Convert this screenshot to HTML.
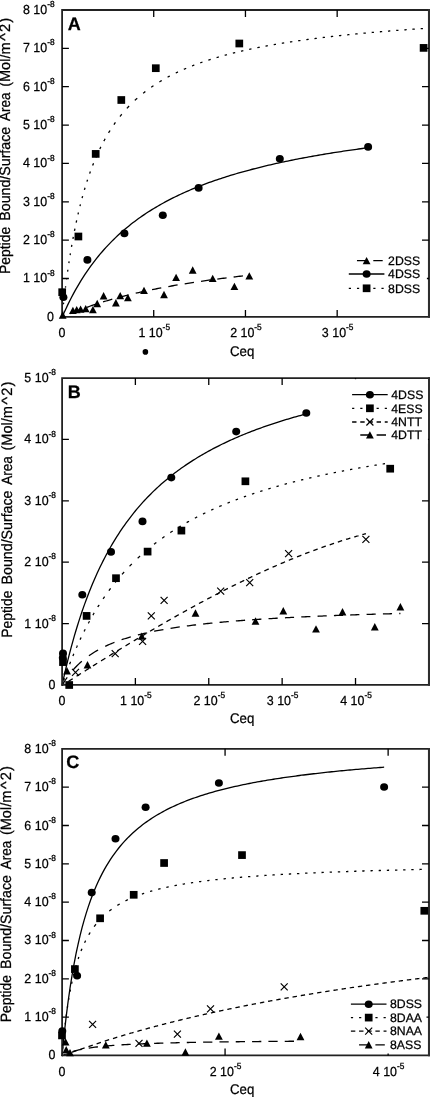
<!DOCTYPE html>
<html><head><meta charset="utf-8"><title>Peptide binding isotherms</title>
<style>html,body{margin:0;padding:0;background:#fff;font-family:"Liberation Sans",sans-serif}svg{display:block;will-change:transform}</style>
</head><body>
<svg width="430" height="1097" viewBox="0 0 430 1097" font-family="'Liberation Sans', sans-serif" fill="#000" text-rendering="geometricPrecision">
<style>text{stroke:#000;stroke-width:0.25px}</style>
<rect width="430" height="1097" fill="#fff"/>
<path d="M62.54 312.35L62.63 311.51L62.72 310.68M63.45 304.2L63.54 303.41L63.63 302.62M64.44 295.72L64.53 294.97L64.62 294.23M65.44 287.7L65.53 286.99L65.62 286.29M66.52 279.43L66.61 278.77L66.7 278.1M67.6 271.64L67.69 271.01L67.79 270.38L67.88 269.76M68.87 263.08L68.96 262.49L69.05 261.9L69.14 261.31M70.14 255.04L70.23 254.49L70.32 253.94L70.41 253.38M71.49 246.97L71.58 246.45L71.67 245.93L71.76 245.41L71.85 244.9M72.94 238.9L73.03 238.42L73.12 237.93L73.21 237.45L73.3 236.97M74.47 230.9L74.56 230.44L74.66 229.99L74.75 229.54L74.84 229.09L74.93 228.64M76.19 222.57L76.28 222.14L76.37 221.72L76.46 221.3L76.55 220.89L76.64 220.47M78 214.43L78.09 214.04L78.18 213.65L78.27 213.26L78.36 212.87L78.45 212.49M79.99 206.14L80.08 205.78L80.17 205.42L80.26 205.06L80.35 204.71L80.44 204.35M82.07 198.15L82.16 197.81L82.25 197.48L82.34 197.15L82.43 196.82L82.52 196.49L82.61 196.16M84.42 189.83L84.51 189.52L84.6 189.22L84.69 188.92L84.78 188.61L84.87 188.31L84.96 188.01L85.05 187.71M86.95 181.63L87.04 181.35L87.13 181.07L87.22 180.79L87.31 180.51L87.4 180.24L87.49 179.96L87.58 179.69M89.66 173.6L89.75 173.35L89.84 173.09L89.93 172.84L90.02 172.58L90.11 172.33L90.2 172.08L90.29 171.83L90.38 171.58M92.64 165.56L92.73 165.33L92.82 165.1L92.92 164.87L93.01 164.64L93.1 164.41L93.19 164.18L93.28 163.95L93.37 163.72L93.46 163.5L93.55 163.27M95.99 157.4L96.17 156.98L96.35 156.56L96.53 156.15L96.71 155.74L96.89 155.33L96.98 155.13M99.79 149.07L99.97 148.69L100.15 148.32L100.33 147.95L100.51 147.58L100.69 147.21L100.87 146.85M103.85 141.08L104.03 140.75L104.21 140.41L104.4 140.08L104.58 139.75L104.76 139.42L104.94 139.1L105.12 138.77M108.55 132.87L108.73 132.57L108.91 132.28L109.1 131.98L109.28 131.69L109.46 131.4L109.64 131.11L109.82 130.82L110 130.53M113.89 124.65L114.16 124.26L114.43 123.88L114.7 123.49L114.97 123.11L115.24 122.73L115.42 122.47M119.94 116.49L120.21 116.15L120.49 115.82L120.76 115.48L121.03 115.15L121.3 114.81L121.57 114.48L121.75 114.26M126.9 108.36L127.27 107.97L127.63 107.58L127.99 107.2L128.35 106.82L128.71 106.44L129.07 106.06M134.86 100.38L135.22 100.04L135.58 99.71L135.94 99.38L136.3 99.05L136.67 98.73L137.03 98.41L137.21 98.25M143.08 93.29L143.45 93.01L143.81 92.72L144.17 92.44L144.53 92.15L144.89 91.87L145.25 91.59L145.34 91.52M151.22 87.23L151.58 86.98L151.94 86.73L152.3 86.48L152.67 86.23L153.03 85.99L153.39 85.74L153.48 85.68M159.36 81.92L159.72 81.7L160.08 81.48L160.44 81.26L160.8 81.04L161.16 80.83L161.52 80.61L161.71 80.5M167.58 77.18L167.94 76.99L168.3 76.79L168.67 76.6L169.03 76.41L169.39 76.22L169.75 76.02L169.84 75.98M175.72 73.02L176.08 72.85L176.44 72.67L176.8 72.5L177.16 72.33L177.52 72.16L177.89 71.99L177.98 71.95M183.85 69.3L184.21 69.14L184.58 68.98L184.94 68.83L185.3 68.68L185.66 68.52L186.02 68.37L186.2 68.29M192.08 65.91L192.44 65.77L192.8 65.63L193.16 65.49L193.52 65.35L193.89 65.21L194.25 65.07L194.34 65.04M200.21 62.88L200.58 62.75L200.94 62.62L201.3 62.5L201.66 62.37L202.02 62.25L202.38 62.12L202.47 62.09M208.35 60.13L208.71 60.01L209.07 59.89L209.43 59.78L209.8 59.66L210.16 59.55L210.52 59.43L210.7 59.38M216.58 57.58L216.94 57.48L217.3 57.37L217.66 57.26L218.02 57.16L218.38 57.05L218.74 56.95L218.84 56.92M224.71 55.28L225.07 55.18L225.43 55.08L225.8 54.99L226.16 54.89L226.52 54.79L226.88 54.7L226.97 54.67M232.85 53.16L233.21 53.07L233.57 52.98L233.93 52.89L234.29 52.8L234.65 52.71L235.02 52.62L235.2 52.58M240.98 51.2L241.34 51.12L241.71 51.03L242.07 50.95L242.43 50.87L242.79 50.79L243.15 50.7L243.33 50.66M249.21 49.37L249.57 49.29L249.93 49.21L250.29 49.14L250.65 49.06L251.02 48.98L251.38 48.91L251.47 48.89M257.34 47.69L257.71 47.61L258.07 47.54L258.43 47.47L258.79 47.4L259.15 47.33L259.51 47.26L259.69 47.22M265.48 46.12L265.84 46.05L266.2 45.99L266.56 45.92L266.93 45.85L267.29 45.79L267.65 45.72L267.83 45.69M273.71 44.64L274.07 44.58L274.43 44.52L274.79 44.45L275.15 44.39L275.51 44.33L275.87 44.27L275.96 44.25M281.84 43.28L282.2 43.22L282.56 43.16L282.93 43.1L283.29 43.04L283.65 42.98L284.01 42.93L284.19 42.9M289.98 41.99L290.34 41.94L290.7 41.88L291.06 41.83L291.42 41.77L291.78 41.72L292.15 41.66L292.33 41.64M298.2 40.78L298.56 40.72L298.93 40.67L299.29 40.62L299.65 40.57L300.01 40.52L300.37 40.47L300.46 40.45M306.34 39.64L306.7 39.59L307.06 39.55L307.42 39.5L307.78 39.45L308.15 39.4L308.51 39.35L308.69 39.33M314.47 38.57L314.83 38.53L315.2 38.48L315.56 38.44L315.92 38.39L316.28 38.35L316.64 38.3L316.82 38.28M322.7 37.55L323.06 37.51L323.42 37.47L323.78 37.42L324.15 37.38L324.51 37.34L324.87 37.3L324.96 37.28M330.83 36.6L331.2 36.56L331.56 36.52L331.92 36.48L332.28 36.44L332.64 36.4L333 36.36L333.18 36.33M338.97 35.7L339.33 35.66L339.69 35.62L340.05 35.58L340.42 35.54L340.78 35.5L341.14 35.46L341.32 35.44M347.2 34.83L347.56 34.79L347.92 34.76L348.28 34.72L348.64 34.68L349 34.65L349.37 34.61L349.46 34.6M355.33 34.02L355.69 33.98L356.05 33.94L356.42 33.91L356.78 33.87L357.14 33.84L357.5 33.8L357.68 33.79M363.47 33.24L363.83 33.21L364.19 33.17L364.55 33.14L364.91 33.11L365.28 33.07L365.64 33.04L365.82 33.02M371.69 32.49L372.05 32.46L372.42 32.43L372.78 32.4L373.14 32.37L373.5 32.34L373.86 32.3L373.95 32.3M379.83 31.79L380.19 31.76L380.55 31.73L380.91 31.7L381.28 31.67L381.64 31.64L382 31.61L382.18 31.59M387.96 31.12L388.33 31.09L388.69 31.06L389.05 31.03L389.41 31L389.77 30.97L390.13 30.95L390.31 30.93M396.19 30.47L396.55 30.44L396.91 30.41L397.28 30.39L397.64 30.36L398 30.33L398.36 30.3L398.45 30.3M404.33 29.86L404.69 29.83L405.05 29.8L405.41 29.78L405.77 29.75L406.13 29.72L406.5 29.7L406.68 29.68M412.46 29.27L412.82 29.24L413.18 29.22L413.55 29.19L413.91 29.17L414.27 29.14L414.63 29.12L414.81 29.1M420.69 28.7L421.05 28.68L421.41 28.65L421.77 28.63L422.13 28.6L422.5 28.58L422.86 28.55L422.95 28.55" fill="none" stroke="#000" stroke-width="1.3"/>
<path d="M62 317.45L63.91 313.1L65.83 308.91L67.74 304.88L69.65 301L71.57 297.26L73.48 293.66L75.39 290.18L77.3 286.82L79.22 283.57L81.13 280.43L83.04 277.39L84.96 274.45L86.87 271.61L88.78 268.85L90.7 266.18L92.61 263.58L94.52 261.07L96.43 258.62L98.35 256.25L100.26 253.95L102.17 251.71L104.09 249.53L106 247.42L107.91 245.35L109.83 243.35L111.74 241.4L113.65 239.49L115.57 237.64L117.48 235.83L119.39 234.07L121.3 232.35L123.22 230.67L125.13 229.04L127.04 227.44L128.96 225.88L130.87 224.35L132.78 222.86L134.7 221.41L136.61 219.99L138.52 218.59L140.43 217.23L142.35 215.9L144.26 214.6L146.17 213.32L148.09 212.07L150 210.85L151.91 209.65L153.83 208.48L155.74 207.33L157.65 206.21L159.57 205.1L161.48 204.02L163.39 202.96L165.3 201.92L167.22 200.89L169.13 199.89L171.04 198.91L172.96 197.94L174.87 197L176.78 196.07L178.7 195.15L180.61 194.25L182.52 193.37L184.43 192.51L186.35 191.66L188.26 190.82L190.17 190L192.09 189.19L194 188.39L195.91 187.61L197.83 186.84L199.74 186.09L201.65 185.34L203.56 184.61L205.48 183.89L207.39 183.18L209.3 182.48L211.22 181.8L213.13 181.12L215.04 180.46L216.96 179.8L218.87 179.15L220.78 178.52L222.7 177.89L224.61 177.27L226.52 176.67L228.43 176.07L230.35 175.48L232.26 174.89L234.17 174.32L236.09 173.75L238 173.2L239.91 172.65L241.83 172.1L243.74 171.57L245.65 171.04L247.56 170.52L249.48 170.01L251.39 169.5L253.3 169L255.22 168.51L257.13 168.02L259.04 167.54L260.96 167.07L262.87 166.6L264.78 166.14L266.7 165.68L268.61 165.23L270.52 164.79L272.43 164.35L274.35 163.91L276.26 163.48L278.17 163.06L280.09 162.64L282 162.23L283.91 161.82L285.83 161.42L287.74 161.02L289.65 160.63L291.56 160.24L293.48 159.85L295.39 159.47L297.3 159.1L299.22 158.73L301.13 158.36L303.04 158L304.96 157.64L306.87 157.28L308.78 156.93L310.7 156.59L312.61 156.24L314.52 155.9L316.43 155.57L318.35 155.24L320.26 154.91L322.17 154.58L324.09 154.26L326 153.94L327.91 153.63L329.83 153.32L331.74 153.01L333.65 152.71L335.56 152.4L337.48 152.11L339.39 151.81L341.3 151.52L343.22 151.23L345.13 150.94L347.04 150.66L348.96 150.38L350.87 150.1L352.78 149.82L354.7 149.55L356.61 149.28L358.52 149.01L360.43 148.75L362.35 148.49L364.26 148.23L366.17 147.97L368.09 147.71" fill="none" stroke="#000" stroke-width="1.3"/>
<path d="M62 317.45L62.19 317.36L62.37 317.28L62.56 317.19L62.75 317.1L62.94 317.02L63.12 316.93L63.31 316.84M70.38 313.72L71.93 313.06L73.47 312.42L75.02 311.79L76.56 311.17L78.11 310.56L79.61 309.98M86.72 307.33L88.27 306.79L89.81 306.24L91.36 305.71L92.9 305.19L94.45 304.67L95.95 304.17M103.02 301.93L104.56 301.46L106.11 301L107.65 300.54L109.2 300.09L110.75 299.65L112.29 299.21M119.36 297.28L120.91 296.87L122.45 296.47L124 296.07L125.54 295.68L127.09 295.3L128.63 294.92M135.7 293.24L137.25 292.88L138.79 292.53L140.34 292.18L141.88 291.84L143.43 291.5L144.93 291.18M152.05 289.69L153.59 289.38L155.14 289.07L156.68 288.76L158.23 288.46L159.77 288.16L161.27 287.88M168.34 286.57L169.89 286.29L171.43 286.01L172.98 285.74L174.52 285.47L176.07 285.21L177.61 284.94M184.68 283.78L186.23 283.53L187.77 283.28L189.32 283.04L190.86 282.8L192.41 282.56L193.95 282.33M201.03 281.28L202.57 281.05L204.12 280.83L205.66 280.61L207.21 280.4L208.75 280.18L210.25 279.98M217.32 279.03L218.87 278.83L220.41 278.63L221.96 278.43L223.5 278.24L225.05 278.04L226.59 277.85M233.66 276.99L235.21 276.81L236.75 276.63L238.3 276.45L239.84 276.27L241.39 276.09L242.93 275.92" fill="none" stroke="#000" stroke-width="1.3"/>
<path d="M62.1 9.1V317.75M61.2 10.0H430M61.2 316.85H430" fill="none" stroke="#222" stroke-width="1.8"/>
<path d="M429 9.1V317.75" fill="none" stroke="#2e2e2e" stroke-width="2.1"/>
<path d="M62.0 278.49h6.9M428.9 278.49h-6.9M62.0 240.14h6.9M428.9 240.14h-6.9M62.0 201.78h6.9M428.9 201.78h-6.9M62.0 163.43h6.9M428.9 163.43h-6.9M62.0 125.07h6.9M428.9 125.07h-6.9M62.0 86.71h6.9M428.9 86.71h-6.9M62.0 48.36h6.9M428.9 48.36h-6.9M153.72 10.0v6.9M153.72 316.85v-6.9M245.45 10.0v6.9M245.45 316.85v-6.9M337.17 10.0v6.9M337.17 316.85v-6.9" stroke="#000" stroke-width="1.3" fill="none"/>
<text transform="translate(54 320.85) scale(0.95 1)" font-size="13.1" text-anchor="end">0</text>
<text transform="translate(54.6 282.49) scale(0.95 1)" font-size="13.1" text-anchor="end">1 10<tspan font-size="8.8" dy="-6.9" stroke="#000" stroke-width="0.3">-8</tspan></text>
<text transform="translate(54.6 244.14) scale(0.95 1)" font-size="13.1" text-anchor="end">2 10<tspan font-size="8.8" dy="-6.9" stroke="#000" stroke-width="0.3">-8</tspan></text>
<text transform="translate(54.6 205.78) scale(0.95 1)" font-size="13.1" text-anchor="end">3 10<tspan font-size="8.8" dy="-6.9" stroke="#000" stroke-width="0.3">-8</tspan></text>
<text transform="translate(54.6 167.43) scale(0.95 1)" font-size="13.1" text-anchor="end">4 10<tspan font-size="8.8" dy="-6.9" stroke="#000" stroke-width="0.3">-8</tspan></text>
<text transform="translate(54.6 129.07) scale(0.95 1)" font-size="13.1" text-anchor="end">5 10<tspan font-size="8.8" dy="-6.9" stroke="#000" stroke-width="0.3">-8</tspan></text>
<text transform="translate(54.6 90.71) scale(0.95 1)" font-size="13.1" text-anchor="end">6 10<tspan font-size="8.8" dy="-6.9" stroke="#000" stroke-width="0.3">-8</tspan></text>
<text transform="translate(54.6 52.36) scale(0.95 1)" font-size="13.1" text-anchor="end">7 10<tspan font-size="8.8" dy="-6.9" stroke="#000" stroke-width="0.3">-8</tspan></text>
<text transform="translate(54.6 14) scale(0.95 1)" font-size="13.1" text-anchor="end">8 10<tspan font-size="8.8" dy="-6.9" stroke="#000" stroke-width="0.3">-8</tspan></text>
<text transform="translate(62 337.15) scale(0.95 1)" font-size="13.1" text-anchor="middle">0</text>
<text transform="translate(154.22 337.15) scale(0.95 1)" font-size="13.1" text-anchor="middle">1 10<tspan font-size="8.8" dy="-6.9" stroke="#000" stroke-width="0.3">-5</tspan></text>
<text transform="translate(245.95 337.15) scale(0.95 1)" font-size="13.1" text-anchor="middle">2 10<tspan font-size="8.8" dy="-6.9" stroke="#000" stroke-width="0.3">-5</tspan></text>
<text transform="translate(337.67 337.15) scale(0.95 1)" font-size="13.1" text-anchor="middle">3 10<tspan font-size="8.8" dy="-6.9" stroke="#000" stroke-width="0.3">-5</tspan></text>
<path d="M58.8 318.7L66.6 318.7L62.7 311.3Z" fill="#000"/>
<path d="M69 314.1L76.8 314.1L72.9 306.7Z" fill="#000"/>
<path d="M72.8 313.3L80.6 313.3L76.7 305.9Z" fill="#000"/>
<path d="M76.7 312.8L84.5 312.8L80.6 305.4Z" fill="#000"/>
<path d="M81.8 312.3L89.6 312.3L85.7 304.9Z" fill="#000"/>
<path d="M89 313.3L96.8 313.3L92.9 305.9Z" fill="#000"/>
<path d="M93.3 307.2L101.1 307.2L97.2 299.8Z" fill="#000"/>
<path d="M99.7 299.5L107.5 299.5L103.6 292.1Z" fill="#000"/>
<path d="M112 306.4L119.8 306.4L115.9 299Z" fill="#000"/>
<path d="M116.3 299.3L124.1 299.3L120.2 291.9Z" fill="#000"/>
<path d="M124 301.3L131.8 301.3L127.9 293.9Z" fill="#000"/>
<path d="M140.1 294.1L147.9 294.1L144 286.7Z" fill="#000"/>
<path d="M160.1 298.2L167.9 298.2L164 290.8Z" fill="#000"/>
<path d="M172.2 281.1L180 281.1L176.1 273.7Z" fill="#000"/>
<path d="M188.8 273.7L196.6 273.7L192.7 266.3Z" fill="#000"/>
<path d="M208.8 282.1L216.6 282.1L212.7 274.7Z" fill="#000"/>
<path d="M230.5 290.1L238.3 290.1L234.4 282.7Z" fill="#000"/>
<path d="M245.4 279.6L253.2 279.6L249.3 272.2Z" fill="#000"/>
<ellipse cx="63.4" cy="297.3" rx="4.0" ry="3.8" fill="#000"/>
<ellipse cx="87.4" cy="259.9" rx="4.0" ry="3.8" fill="#000"/>
<ellipse cx="124.4" cy="233.4" rx="4.0" ry="3.8" fill="#000"/>
<ellipse cx="162.8" cy="215.3" rx="4.0" ry="3.8" fill="#000"/>
<ellipse cx="198.6" cy="187.9" rx="4.0" ry="3.8" fill="#000"/>
<ellipse cx="279.8" cy="158.8" rx="4.0" ry="3.8" fill="#000"/>
<ellipse cx="368.1" cy="146.9" rx="4.0" ry="3.8" fill="#000"/>
<rect x="58.35" y="288.35" width="7.7" height="7.7" fill="#000"/>
<rect x="74.55" y="232.65" width="7.7" height="7.7" fill="#000"/>
<rect x="91.85" y="150.05" width="7.7" height="7.7" fill="#000"/>
<rect x="117.45" y="96.15" width="7.7" height="7.7" fill="#000"/>
<rect x="151.95" y="64.35" width="7.7" height="7.7" fill="#000"/>
<rect x="235.45" y="39.65" width="7.7" height="7.7" fill="#000"/>
<rect x="419.75" y="44.05" width="7.7" height="7.7" fill="#000"/>
<text x="67.7" y="30" font-size="18" font-weight="bold">A</text>
<text transform="translate(9.9 274.01) rotate(-90) scale(0.931 1)" font-size="14.93">Peptide</text>
<text transform="translate(9.9 220.69) rotate(-90) scale(0.951 1)" font-size="14.93">Bound/Surface</text>
<text transform="translate(9.9 121.05) rotate(-90) scale(0.905 1)" font-size="14.93">Area</text>
<text transform="translate(9.9 86.82) rotate(-90) scale(0.973 1)" font-size="14.93">(Mol/m</text>
<text transform="translate(9.9 40.85) rotate(-90) scale(1.08 1)" font-size="14.93">^</text>
<text transform="translate(9.9 31.98) rotate(-90) scale(0.98 1)" font-size="14.93">2</text>
<text transform="translate(9.9 22.7) rotate(-90) scale(1.0 1)" font-size="14.93">)</text>
<text transform="translate(242.2 356.05) scale(0.945 1)" font-size="14" text-anchor="middle">Ceq</text>
<rect x="345.8" y="245.2" width="81.1" height="51.8" fill="#fff"/>
<path d="M356.97 260.7H366.3M373.3 260.7H382.7" stroke="#000" stroke-width="1.3"/>
<path d="M362.7 264.3L370.5 264.3L366.6 256.9Z" fill="#000"/>
<text x="388.1" y="265" font-size="12.25">2DSS</text>
<path d="M348.8 274H384.4" stroke="#000" stroke-width="1.3"/>
<ellipse cx="366.6" cy="274" rx="4.0" ry="3.8" fill="#000"/>
<text x="388.1" y="278.4" font-size="12.25">4DSS</text>
<path d="M348.8 288.3H384.4" stroke="#000" stroke-width="1.3" stroke-dasharray="2.2 5.965"/>
<rect x="362.75" y="284.45" width="7.7" height="7.7" fill="#000"/>
<text x="388.1" y="292.7" font-size="12.25">8DSS</text>
<circle cx="145.4" cy="351.9" r="2.8" fill="#000"/>
<path d="M62 685.5L63.53 678.53L65.05 671.82L66.58 665.36L68.11 659.15L69.64 653.16L71.16 647.38L72.69 641.81L74.22 636.42L75.74 631.22L77.27 626.19L78.8 621.33L80.33 616.62L81.85 612.06L83.38 607.65L84.91 603.36L86.44 599.21L87.96 595.19L89.49 591.28L91.02 587.48L92.54 583.79L94.07 580.21L95.6 576.72L97.13 573.33L98.65 570.03L100.18 566.82L101.71 563.69L103.23 560.65L104.76 557.68L106.29 554.79L107.82 551.97L109.34 549.22L110.87 546.53L112.4 543.91L113.93 541.36L115.45 538.86L116.98 536.42L118.51 534.04L120.03 531.71L121.56 529.43L123.09 527.2L124.62 525.03L126.14 522.9L127.67 520.81L129.2 518.77L130.72 516.77L132.25 514.82L133.78 512.9L135.31 511.03L136.83 509.19L138.36 507.38L139.89 505.62L141.42 503.89L142.94 502.19L144.47 500.52L146 498.89L147.52 497.29L149.05 495.71L150.58 494.17L152.11 492.65L153.63 491.16L155.16 489.7L156.69 488.27L158.21 486.86L159.74 485.47L161.27 484.11L162.8 482.77L164.32 481.46L165.85 480.16L167.38 478.89L168.91 477.64L170.43 476.41L171.96 475.2L173.49 474.01L175.01 472.84L176.54 471.69L178.07 470.56L179.6 469.44L181.12 468.34L182.65 467.26L184.18 466.2L185.7 465.15L187.23 464.12L188.76 463.1L190.29 462.1L191.81 461.11L193.34 460.14L194.87 459.18L196.4 458.24L197.92 457.31L199.45 456.39L200.98 455.48L202.5 454.59L204.03 453.71L205.56 452.85L207.09 451.99L208.61 451.15L210.14 450.31L211.67 449.49L213.19 448.68L214.72 447.88L216.25 447.1L217.78 446.32L219.3 445.55L220.83 444.79L222.36 444.04L223.89 443.31L225.41 442.58L226.94 441.86L228.47 441.14L229.99 440.44L231.52 439.75L233.05 439.06L234.58 438.39L236.1 437.72L237.63 437.06L239.16 436.41L240.68 435.76L242.21 435.13L243.74 434.5L245.27 433.88L246.79 433.26L248.32 432.65L249.85 432.05L251.38 431.46L252.9 430.87L254.43 430.29L255.96 429.72L257.48 429.15L259.01 428.59L260.54 428.04L262.07 427.49L263.59 426.95L265.12 426.41L266.65 425.88L268.17 425.35L269.7 424.84L271.23 424.32L272.76 423.81L274.28 423.31L275.81 422.81L277.34 422.32L278.87 421.83L280.39 421.35L281.92 420.87L283.45 420.4L284.97 419.93L286.5 419.47L288.03 419.01L289.56 418.56L291.08 418.11L292.61 417.67L294.14 417.23L295.66 416.79L297.19 416.36L298.72 415.93L300.25 415.51L301.77 415.09L303.3 414.67L304.83 414.26L306.36 413.86" fill="none" stroke="#000" stroke-width="1.3"/>
<path d="M63.72 680.39L63.81 680.15L63.89 679.91L63.97 679.67L64.05 679.44L64.13 679.2L64.22 678.96L64.3 678.73L64.38 678.49L64.46 678.25M66.6 672.26L66.68 672.04L66.76 671.81L66.84 671.59L66.92 671.37L67.01 671.14L67.09 670.92L67.17 670.69L67.25 670.47L67.33 670.25L67.42 670.03M69.63 664.17L69.8 663.74L69.96 663.32L70.12 662.9L70.29 662.48L70.45 662.06L70.53 661.85M72.91 655.94L73.08 655.54L73.24 655.14L73.41 654.75L73.57 654.35L73.73 653.96L73.82 653.76M76.36 647.83L76.52 647.45L76.69 647.08L76.85 646.71L77.02 646.34L77.18 645.97L77.34 645.6M80.05 639.69L80.22 639.34L80.38 638.99L80.54 638.64L80.71 638.29L80.87 637.95L81.04 637.6L81.12 637.43M83.99 631.57L84.16 631.24L84.32 630.91L84.48 630.59L84.65 630.27L84.81 629.94L84.98 629.62L85.14 629.3M88.26 623.37L88.42 623.06L88.59 622.76L88.75 622.46L88.91 622.16L89.08 621.86L89.24 621.56L89.41 621.26L89.49 621.11M92.85 615.16L93.02 614.87L93.18 614.59L93.35 614.31L93.51 614.03L93.67 613.75L93.84 613.47L94 613.2L94.17 612.92M97.78 607L98.02 606.61L98.27 606.22L98.52 605.83L98.76 605.44L99.01 605.06L99.17 604.8M103.11 598.83L103.36 598.47L103.6 598.11L103.85 597.75L104.1 597.39L104.34 597.03L104.59 596.68L104.67 596.56M108.85 590.72L109.1 590.38L109.35 590.05L109.59 589.72L109.84 589.39L110.09 589.06L110.33 588.74L110.58 588.41M115.17 582.52L115.5 582.11L115.83 581.71L116.16 581.3L116.49 580.9L116.81 580.5L117.06 580.2M122.07 574.34L122.39 573.97L122.72 573.6L123.05 573.23L123.38 572.86L123.71 572.49L124.04 572.13L124.12 572.04M129.53 566.26L129.86 565.92L130.19 565.58L130.52 565.25L130.85 564.91L131.17 564.58L131.5 564.25L131.83 563.92M137.66 558.27L138.07 557.88L138.48 557.5L138.89 557.12L139.3 556.74L139.71 556.37L140.04 556.07M145.86 550.93L146.19 550.65L146.52 550.38L146.85 550.1L147.18 549.82L147.5 549.55L147.83 549.27L148.16 549M153.99 544.31L154.4 543.99L154.81 543.67L155.22 543.35L155.63 543.04L156.04 542.72L156.37 542.47M162.19 538.17L162.52 537.94L162.85 537.71L163.18 537.47L163.5 537.24L163.83 537.01L164.16 536.78L164.49 536.55M170.32 532.59L170.73 532.32L171.14 532.05L171.55 531.78L171.96 531.52L172.37 531.25L172.7 531.04M178.52 527.38L178.85 527.18L179.18 526.98L179.51 526.79L179.83 526.59L180.16 526.39L180.49 526.19L180.82 526M186.64 522.61L187.06 522.38L187.47 522.15L187.88 521.92L188.29 521.69L188.7 521.46L189.02 521.28M194.85 518.14L195.18 517.97L195.51 517.8L195.84 517.62L196.16 517.45L196.49 517.28L196.82 517.11L197.15 516.94M202.97 514.02L203.38 513.82L203.79 513.62L204.21 513.42L204.62 513.22L205.03 513.02L205.35 512.86M211.18 510.13L211.51 509.98L211.84 509.83L212.16 509.68L212.49 509.53L212.82 509.38L213.15 509.24L213.48 509.09M219.3 506.53L219.71 506.36L220.12 506.18L220.53 506.01L220.94 505.83L221.36 505.66L221.68 505.52M227.51 503.13L227.84 502.99L228.17 502.86L228.49 502.73L228.82 502.6L229.15 502.47L229.48 502.34L229.81 502.21M235.63 499.96L236.04 499.8L236.45 499.65L236.86 499.49L237.27 499.34L237.68 499.19L238.01 499.07M243.84 496.95L244.17 496.83L244.5 496.71L244.82 496.6L245.15 496.48L245.48 496.37L245.81 496.25L246.14 496.14M251.96 494.14L252.37 494L252.78 493.86L253.19 493.73L253.6 493.59L254.01 493.45L254.34 493.34M260.17 491.46L260.5 491.35L260.82 491.25L261.15 491.14L261.48 491.04L261.81 490.94L262.14 490.84L262.47 490.73M268.29 488.95L268.7 488.82L269.11 488.7L269.52 488.58L269.93 488.46L270.34 488.33L270.67 488.24M276.5 486.54L276.83 486.45L277.15 486.36L277.48 486.27L277.81 486.17L278.14 486.08L278.47 485.99L278.8 485.89M284.62 484.29L285.03 484.18L285.44 484.07L285.85 483.96L286.26 483.85L286.67 483.74L287 483.65M292.83 482.13L293.16 482.04L293.48 481.96L293.81 481.87L294.14 481.79L294.47 481.71L294.8 481.62L295.12 481.54M301.03 480.07L301.36 479.99L301.69 479.91L302.02 479.83L302.35 479.75L302.67 479.67L303 479.59L303.33 479.51M309.16 478.13L309.48 478.05L309.81 477.97L310.14 477.9L310.47 477.82L310.8 477.75L311.13 477.67L311.45 477.6M317.36 476.26L317.69 476.19L318.02 476.11L318.35 476.04L318.67 475.97L319 475.9L319.33 475.82L319.66 475.75M325.49 474.49L325.81 474.42L326.14 474.35L326.47 474.29L326.8 474.22L327.13 474.15L327.45 474.08L327.78 474.01M333.69 472.79L334.02 472.72L334.35 472.66L334.68 472.59L335 472.52L335.33 472.46L335.66 472.39L335.99 472.33M341.82 471.18L342.14 471.11L342.47 471.05L342.8 470.99L343.13 470.92L343.46 470.86L343.78 470.8L344.11 470.73M350.02 469.62L350.35 469.56L350.68 469.49L351.01 469.43L351.33 469.37L351.66 469.31L351.99 469.25L352.32 469.19M358.14 468.14L358.47 468.08L358.8 468.02L359.13 467.96L359.46 467.9L359.79 467.85L360.11 467.79L360.44 467.73M366.35 466.7L366.68 466.65L367.01 466.59L367.33 466.53L367.66 466.48L367.99 466.42L368.32 466.37L368.65 466.31M374.47 465.34L374.8 465.29L375.13 465.23L375.46 465.18L375.79 465.13L376.11 465.07L376.44 465.02L376.77 464.96M382.68 464.02L383.01 463.97L383.34 463.91L383.66 463.86L383.99 463.81L384.32 463.76L384.65 463.71L384.98 463.66" fill="none" stroke="#000" stroke-width="1.3"/>
<path d="M62 685.5L62.38 685.26L62.76 685.02L63.14 684.77L63.52 684.53L63.9 684.29L64.28 684.05L64.58 683.85M68.38 681.44L69.07 681L69.75 680.57L70.43 680.13L71.12 679.7L71.8 679.27L72.49 678.83L72.71 678.69M76.59 676.24L77.27 675.8L77.96 675.37L78.64 674.94L79.32 674.51L80.01 674.07L80.69 673.64L80.92 673.5M84.72 671.11L85.4 670.68L86.09 670.25L86.77 669.82L87.45 669.39L88.14 668.96L88.82 668.53L89.05 668.39M92.93 665.96L93.61 665.53L94.29 665.1L94.98 664.68L95.66 664.25L96.35 663.82L97.03 663.4L97.18 663.3M101.06 660.89L101.74 660.47L102.42 660.04L103.11 659.62L103.79 659.19L104.48 658.77L105.16 658.35L105.39 658.21M109.19 655.86L109.87 655.44L110.55 655.02L111.24 654.59L111.92 654.17L112.61 653.75L113.29 653.33L113.52 653.19M117.39 650.82L118.08 650.4L118.76 649.98L119.44 649.56L120.13 649.15L120.81 648.73L121.5 648.31L121.72 648.17M125.52 645.87L126.21 645.45L126.89 645.04L127.58 644.62L128.26 644.21L128.94 643.8L129.63 643.38L129.85 643.25M133.73 640.91L134.41 640.5L135.1 640.09L135.78 639.68L136.47 639.27L137.15 638.86L137.83 638.45L138.06 638.32M141.86 636.05L142.54 635.65L143.23 635.24L143.91 634.84L144.6 634.43L145.28 634.03L145.96 633.62L146.19 633.49M150.07 631.2L150.75 630.8L151.43 630.4L152.12 630L152.8 629.6L153.49 629.2L154.17 628.8L154.4 628.66M158.2 626.45L158.88 626.05L159.56 625.66L160.25 625.26L160.93 624.86L161.62 624.47L162.3 624.07L162.53 623.94M166.4 621.71L167.09 621.32L167.77 620.93L168.45 620.54L169.14 620.15L169.82 619.76L170.51 619.37L170.73 619.24M174.53 617.08L175.22 616.69L175.9 616.31L176.59 615.92L177.27 615.54L177.95 615.15L178.64 614.77L178.86 614.64M182.74 612.47L183.42 612.09L184.11 611.71L184.79 611.33L185.48 610.95L186.16 610.57L186.84 610.19L187 610.11M190.87 607.97L191.55 607.6L192.24 607.22L192.92 606.85L193.61 606.47L194.29 606.1L194.97 605.73L195.2 605.6M199 603.54L199.68 603.17L200.37 602.8L201.05 602.44L201.74 602.07L202.42 601.7L203.1 601.34L203.33 601.21M207.21 599.15L207.89 598.79L208.58 598.42L209.26 598.06L209.94 597.7L210.63 597.34L211.31 596.98L211.54 596.86M215.34 594.87L216.02 594.52L216.71 594.16L217.39 593.81L218.07 593.45L218.76 593.1L219.44 592.74L219.67 592.63M223.54 590.64L224.23 590.29L224.91 589.94L225.6 589.59L226.28 589.25L226.96 588.9L227.65 588.55L227.88 588.44M231.67 586.53L232.36 586.19L233.04 585.84L233.73 585.5L234.41 585.16L235.09 584.83L235.78 584.49L236.01 584.37M239.88 582.47L240.56 582.13L241.25 581.8L241.93 581.47L242.62 581.13L243.3 580.8L243.98 580.47L244.21 580.36M248.01 578.54L248.7 578.21L249.38 577.88L250.06 577.56L250.75 577.23L251.43 576.91L252.11 576.59L252.34 576.48M256.22 574.66L256.9 574.34L257.59 574.03L258.27 573.71L258.95 573.39L259.64 573.08L260.32 572.76L260.55 572.66M264.35 570.92L265.03 570.61L265.72 570.3L266.4 569.99L267.08 569.69L267.77 569.38L268.45 569.07L268.68 568.97M272.55 567.25L273.24 566.95L273.92 566.65L274.61 566.35L275.29 566.05L275.97 565.75L276.66 565.45L276.81 565.38M280.68 563.71L281.37 563.42L282.05 563.13L282.74 562.84L283.42 562.55L284.1 562.26L284.79 561.97L285.02 561.87M288.82 560.28L289.5 560L290.18 559.72L290.87 559.44L291.55 559.15L292.23 558.87L292.92 558.6L293.15 558.5M297.02 556.93L297.71 556.66L298.39 556.39L299.07 556.12L299.76 555.84L300.44 555.57L301.12 555.3L301.35 555.21M305.15 553.73L305.84 553.47L306.52 553.2L307.2 552.94L307.89 552.68L308.57 552.42L309.26 552.16L309.48 552.07M313.36 550.61L314.04 550.36L314.73 550.11L315.41 549.85L316.09 549.6L316.78 549.35L317.46 549.1L317.69 549.02M321.49 547.65L322.17 547.4L322.86 547.16L323.54 546.92L324.22 546.68L324.91 546.44L325.59 546.2L325.82 546.12M329.7 544.78L330.38 544.54L331.06 544.31L331.75 544.08L332.43 543.85L333.11 543.62L333.8 543.39L334.03 543.31M337.83 542.06L338.51 541.84L339.19 541.62L339.88 541.39L340.56 541.17L341.24 540.96L341.93 540.74L342.16 540.67M346.03 539.45L346.72 539.24L347.4 539.03L348.08 538.82L348.77 538.61L349.45 538.4L350.14 538.19L350.36 538.13M354.16 537L354.85 536.8L355.53 536.6L356.21 536.4L356.9 536.2L357.58 536L358.27 535.81L358.49 535.74M362.37 534.66L362.98 534.49L363.58 534.32L364.19 534.16L364.8 533.99L365.41 533.83L365.94 533.68" fill="none" stroke="#000" stroke-width="1.3"/>
<path d="M62 685.5L62.85 684.06L63.69 682.67L64.54 681.32L65.38 680.02L66.23 678.76L67.08 677.55L67.25 677.31M72.91 670.12L74.35 668.51L75.79 666.98L77.23 665.51L78.67 664.12L80.11 662.78L81.54 661.51L81.8 661.29M88.91 655.74L90.43 654.69L91.95 653.68L93.47 652.71L95 651.77L96.52 650.87L98.04 650.01L98.13 649.96M105.23 646.31L106.76 645.6L108.28 644.91L109.8 644.25L111.33 643.6L112.85 642.98L114.37 642.37L114.46 642.34M121.56 639.75L123.09 639.24L124.61 638.75L126.13 638.26L127.66 637.79L129.18 637.33L130.7 636.89L130.79 636.87M137.89 634.93L139.42 634.55L140.94 634.17L142.46 633.81L143.98 633.45L145.51 633.1L147.03 632.76L147.11 632.74M154.22 631.25L155.74 630.94L157.27 630.65L158.79 630.36L160.31 630.08L161.84 629.8L163.36 629.53L163.44 629.52M170.55 628.33L172.07 628.09L173.6 627.85L175.12 627.62L176.64 627.39L178.17 627.17L179.69 626.95L179.77 626.94M186.88 625.96L188.4 625.77L189.93 625.57L191.45 625.38L192.97 625.19L194.49 625.01L196.02 624.83L196.1 624.82M203.21 624.01L204.73 623.85L206.26 623.68L207.78 623.52L209.3 623.37L210.82 623.21L212.35 623.06L212.43 623.05M219.54 622.37L221.06 622.23L222.58 622.09L224.11 621.95L225.63 621.82L227.15 621.69L228.68 621.56L228.76 621.55M235.87 620.97L237.39 620.85L238.91 620.73L240.44 620.61L241.96 620.5L243.48 620.38L245.01 620.27L245.09 620.26M252.2 619.76L253.72 619.66L255.24 619.55L256.77 619.45L258.29 619.35L259.81 619.25L261.33 619.15L261.42 619.15M268.53 618.71L270.05 618.62L271.57 618.53L273.09 618.44L274.62 618.35L276.14 618.26L277.66 618.18L277.75 618.17M284.94 617.78L286.46 617.7L287.99 617.62L289.51 617.54L291.03 617.46L292.55 617.38L294.08 617.31M301.27 616.96L302.79 616.89L304.31 616.82L305.84 616.75L307.36 616.68L308.88 616.61L310.41 616.54M317.6 616.23L319.12 616.16L320.64 616.1L322.17 616.04L323.69 615.97L325.21 615.91L326.74 615.85M333.93 615.57L335.45 615.51L336.97 615.46L338.5 615.4L340.02 615.34L341.54 615.29L343.06 615.23M350.26 614.98L351.78 614.93L353.3 614.88L354.83 614.82L356.35 614.77L357.87 614.72L359.39 614.67M366.59 614.44L368.11 614.39L369.63 614.35L371.15 614.3L372.68 614.25L374.2 614.21L375.72 614.16M382.91 613.95L384.44 613.91L385.96 613.87L387.48 613.82L389.01 613.78L390.53 613.74L392.05 613.7M399.24 613.5L399.41 613.5L399.58 613.5L399.75 613.49L399.92 613.49L400.09 613.48L400.26 613.48L400.43 613.47" fill="none" stroke="#000" stroke-width="1.3"/>
<path d="M62.1 377.2V685.8M61.2 378.1H430M61.2 684.9H430" fill="none" stroke="#222" stroke-width="1.8"/>
<path d="M429 377.2V685.8" fill="none" stroke="#2e2e2e" stroke-width="2.1"/>
<path d="M62.0 623.54h6.9M428.9 623.54h-6.9M62.0 562.18h6.9M428.9 562.18h-6.9M62.0 500.82h6.9M428.9 500.82h-6.9M62.0 439.46h6.9M428.9 439.46h-6.9M135.38 378.1v6.9M135.38 684.9v-6.9M208.76 378.1v6.9M208.76 684.9v-6.9M282.14 378.1v6.9M282.14 684.9v-6.9M355.52 378.1v6.9M355.52 684.9v-6.9" stroke="#000" stroke-width="1.3" fill="none"/>
<text transform="translate(55.4 688.9) scale(0.95 1)" font-size="13.1" text-anchor="end">0</text>
<text transform="translate(56 627.54) scale(0.95 1)" font-size="13.1" text-anchor="end">1 10<tspan font-size="8.8" dy="-6.9" stroke="#000" stroke-width="0.3">-8</tspan></text>
<text transform="translate(56 566.18) scale(0.95 1)" font-size="13.1" text-anchor="end">2 10<tspan font-size="8.8" dy="-6.9" stroke="#000" stroke-width="0.3">-8</tspan></text>
<text transform="translate(56 504.82) scale(0.95 1)" font-size="13.1" text-anchor="end">3 10<tspan font-size="8.8" dy="-6.9" stroke="#000" stroke-width="0.3">-8</tspan></text>
<text transform="translate(56 443.46) scale(0.95 1)" font-size="13.1" text-anchor="end">4 10<tspan font-size="8.8" dy="-6.9" stroke="#000" stroke-width="0.3">-8</tspan></text>
<text transform="translate(56 382.1) scale(0.95 1)" font-size="13.1" text-anchor="end">5 10<tspan font-size="8.8" dy="-6.9" stroke="#000" stroke-width="0.3">-8</tspan></text>
<text transform="translate(62 705.2) scale(0.95 1)" font-size="13.1" text-anchor="middle">0</text>
<text transform="translate(135.88 705.2) scale(0.95 1)" font-size="13.1" text-anchor="middle">1 10<tspan font-size="8.8" dy="-6.9" stroke="#000" stroke-width="0.3">-5</tspan></text>
<text transform="translate(209.26 705.2) scale(0.95 1)" font-size="13.1" text-anchor="middle">2 10<tspan font-size="8.8" dy="-6.9" stroke="#000" stroke-width="0.3">-5</tspan></text>
<text transform="translate(282.64 705.2) scale(0.95 1)" font-size="13.1" text-anchor="middle">3 10<tspan font-size="8.8" dy="-6.9" stroke="#000" stroke-width="0.3">-5</tspan></text>
<text transform="translate(356.02 705.2) scale(0.95 1)" font-size="13.1" text-anchor="middle">4 10<tspan font-size="8.8" dy="-6.9" stroke="#000" stroke-width="0.3">-5</tspan></text>
<ellipse cx="63" cy="653.4" rx="4.0" ry="3.8" fill="#000"/>
<ellipse cx="62.8" cy="657.8" rx="4.0" ry="3.8" fill="#000"/>
<ellipse cx="82.3" cy="594.7" rx="4.0" ry="3.8" fill="#000"/>
<ellipse cx="111" cy="551.9" rx="4.0" ry="3.8" fill="#000"/>
<ellipse cx="142.5" cy="521.4" rx="4.0" ry="3.8" fill="#000"/>
<ellipse cx="171.3" cy="477.6" rx="4.0" ry="3.8" fill="#000"/>
<ellipse cx="236.2" cy="431.6" rx="4.0" ry="3.8" fill="#000"/>
<ellipse cx="306.3" cy="413" rx="4.0" ry="3.8" fill="#000"/>
<rect x="59.15" y="658.25" width="7.7" height="7.7" fill="#000"/>
<rect x="65.35" y="681.15" width="7.7" height="7.7" fill="#000"/>
<rect x="82.75" y="612.05" width="7.7" height="7.7" fill="#000"/>
<rect x="112.15" y="574.35" width="7.7" height="7.7" fill="#000"/>
<rect x="143.75" y="547.75" width="7.7" height="7.7" fill="#000"/>
<rect x="177.55" y="526.75" width="7.7" height="7.7" fill="#000"/>
<rect x="241.55" y="477.45" width="7.7" height="7.7" fill="#000"/>
<rect x="386.35" y="464.85" width="7.7" height="7.7" fill="#000"/>
<path d="M72 668.9L79 675.9M72 675.9L79 668.9" stroke="#000" stroke-width="1.2" fill="none"/>
<path d="M111.7 650.2L118.7 657.2M111.7 657.2L118.7 650.2" stroke="#000" stroke-width="1.2" fill="none"/>
<path d="M139.1 637.8L146.1 644.8M139.1 644.8L146.1 637.8" stroke="#000" stroke-width="1.2" fill="none"/>
<path d="M147.8 612.4L154.8 619.4M147.8 619.4L154.8 612.4" stroke="#000" stroke-width="1.2" fill="none"/>
<path d="M160.6 596.9L167.6 603.9M160.6 603.9L167.6 596.9" stroke="#000" stroke-width="1.2" fill="none"/>
<path d="M217.2 587.6L224.2 594.6M217.2 594.6L224.2 587.6" stroke="#000" stroke-width="1.2" fill="none"/>
<path d="M246.2 579.2L253.2 586.2M246.2 586.2L253.2 579.2" stroke="#000" stroke-width="1.2" fill="none"/>
<path d="M285.1 550.1L292.1 557.1M285.1 557.1L292.1 550.1" stroke="#000" stroke-width="1.2" fill="none"/>
<path d="M362.4 535.9L369.4 542.9M362.4 542.9L369.4 535.9" stroke="#000" stroke-width="1.2" fill="none"/>
<path d="M63.1 674.5L70.9 674.5L67 667.1Z" fill="#000"/>
<path d="M83.6 668.4L91.4 668.4L87.5 661Z" fill="#000"/>
<path d="M137.9 639.8L145.7 639.8L141.8 632.4Z" fill="#000"/>
<path d="M191.6 616.7L199.4 616.7L195.5 609.3Z" fill="#000"/>
<path d="M251.6 624.7L259.4 624.7L255.5 617.3Z" fill="#000"/>
<path d="M279.4 614.5L287.2 614.5L283.3 607.1Z" fill="#000"/>
<path d="M312.1 632.6L319.9 632.6L316 625.2Z" fill="#000"/>
<path d="M338.6 615.4L346.4 615.4L342.5 608Z" fill="#000"/>
<path d="M370.9 630.4L378.7 630.4L374.8 623Z" fill="#000"/>
<path d="M396.5 610.5L404.3 610.5L400.4 603.1Z" fill="#000"/>
<text x="67.7" y="398.1" font-size="18" font-weight="bold">B</text>
<text transform="translate(12.2 637.71) rotate(-90) scale(0.931 1)" font-size="14.93">Peptide</text>
<text transform="translate(12.2 584.39) rotate(-90) scale(0.951 1)" font-size="14.93">Bound/Surface</text>
<text transform="translate(12.2 484.75) rotate(-90) scale(0.905 1)" font-size="14.93">Area</text>
<text transform="translate(12.2 450.52) rotate(-90) scale(0.973 1)" font-size="14.93">(Mol/m</text>
<text transform="translate(12.2 404.55) rotate(-90) scale(1.08 1)" font-size="14.93">^</text>
<text transform="translate(12.2 395.68) rotate(-90) scale(0.98 1)" font-size="14.93">2</text>
<text transform="translate(12.2 386.4) rotate(-90) scale(1.0 1)" font-size="14.93">)</text>
<text transform="translate(242.2 723.1) scale(0.945 1)" font-size="14" text-anchor="middle">Ceq</text>
<rect x="349.1" y="379.2" width="78.85" height="64.5" fill="#fff"/>
<path d="M352.1 394.7H387.7" stroke="#000" stroke-width="1.3"/>
<ellipse cx="369.9" cy="394.7" rx="4.0" ry="3.8" fill="#000"/>
<text x="391.3" y="398.8" font-size="12.25">4DSS</text>
<path d="M352.1 408.3H387.7" stroke="#000" stroke-width="1.3" stroke-dasharray="2.2 5.965"/>
<rect x="366.05" y="404.45" width="7.7" height="7.7" fill="#000"/>
<text x="391.3" y="412.6" font-size="12.25">4ESS</text>
<path d="M352.1 422H387.7" stroke="#000" stroke-width="1.3" stroke-dasharray="4.4 3.765"/>
<path d="M366.4 418.5L373.4 425.5M366.4 425.5L373.4 418.5" stroke="#000" stroke-width="1.2" fill="none"/>
<text x="391.3" y="426" font-size="12.25">4NTT</text>
<path d="M360.27 435H369.6M376.6 435H386" stroke="#000" stroke-width="1.3"/>
<path d="M366 438.6L373.8 438.6L369.9 431.2Z" fill="#000"/>
<text x="391.3" y="439.3" font-size="12.25">4DTT</text>

<path d="M62 1056.05L64.01 1035.72L66.03 1017.86L68.04 1002.04L70.05 987.93L72.07 975.26L74.08 963.83L76.09 953.47L78.11 944.03L80.12 935.39L82.13 927.45L84.15 920.14L86.16 913.38L88.17 907.11L90.19 901.28L92.2 895.85L94.21 890.77L96.23 886.02L98.24 881.56L100.25 877.36L102.27 873.41L104.28 869.68L106.29 866.16L108.31 862.82L110.32 859.65L112.33 856.65L114.35 853.8L116.36 851.08L118.37 848.49L120.39 846.02L122.4 843.66L124.41 841.4L126.43 839.24L128.44 837.17L130.45 835.19L132.47 833.29L134.48 831.46L136.49 829.71L138.51 828.02L140.52 826.39L142.53 824.82L144.55 823.31L146.56 821.86L148.57 820.45L150.59 819.09L152.6 817.78L154.61 816.51L156.63 815.28L158.64 814.1L160.65 812.95L162.67 811.83L164.68 810.75L166.69 809.7L168.71 808.68L170.72 807.7L172.74 806.74L174.75 805.8L176.76 804.9L178.78 804.02L180.79 803.16L182.8 802.33L184.82 801.51L186.83 800.72L188.84 799.95L190.86 799.2L192.87 798.47L194.88 797.76L196.9 797.06L198.91 796.38L200.92 795.72L202.94 795.07L204.95 794.44L206.96 793.82L208.98 793.22L210.99 792.63L213 792.05L215.02 791.49L217.03 790.93L219.04 790.39L221.06 789.87L223.07 789.35L225.08 788.84L227.1 788.35L229.11 787.86L231.12 787.39L233.14 786.92L235.15 786.46L237.16 786.02L239.18 785.58L241.19 785.15L243.2 784.72L245.22 784.31L247.23 783.9L249.24 783.51L251.26 783.11L253.27 782.73L255.28 782.35L257.3 781.98L259.31 781.62L261.32 781.26L263.34 780.91L265.35 780.56L267.36 780.22L269.38 779.89L271.39 779.56L273.4 779.24L275.42 778.92L277.43 778.61L279.44 778.3L281.46 778L283.47 777.7L285.48 777.41L287.5 777.12L289.51 776.84L291.52 776.56L293.54 776.29L295.55 776.02L297.56 775.75L299.58 775.49L301.59 775.23L303.6 774.98L305.62 774.73L307.63 774.48L309.64 774.24L311.66 774L313.67 773.76L315.68 773.53L317.7 773.3L319.71 773.07L321.72 772.85L323.74 772.63L325.75 772.41L327.76 772.19L329.78 771.98L331.79 771.77L333.8 771.57L335.82 771.37L337.83 771.17L339.84 770.97L341.86 770.77L343.87 770.58L345.88 770.39L347.9 770.2L349.91 770.02L351.92 769.83L353.94 769.65L355.95 769.47L357.96 769.3L359.98 769.12L361.99 768.95L364 768.78L366.02 768.62L368.03 768.45L370.04 768.29L372.06 768.12L374.07 767.96L376.08 767.81L378.1 767.65L380.11 767.5L382.12 767.34L384.14 767.19" fill="none" stroke="#000" stroke-width="1.3"/>
<path d="M62 1056.05L62.09 1054.97M62.63 1048.75L62.72 1047.75L62.82 1046.76M63.45 1040.13L63.54 1039.22M64.26 1032.26L64.36 1031.43L64.45 1030.61M65.17 1024.3L65.26 1023.54L65.35 1022.79M66.17 1016.35L66.26 1015.66L66.35 1014.98L66.44 1014.31M67.34 1007.9L67.44 1007.29L67.53 1006.68L67.62 1006.08M68.61 999.77L68.7 999.22L68.79 998.68L68.88 998.14M70.06 991.51L70.15 991.03L70.24 990.55L70.33 990.07L70.42 989.6M71.6 983.75L71.69 983.33L71.78 982.9L71.87 982.48L71.96 982.06L72.05 981.64M73.5 975.36L73.59 974.98L73.69 974.62L73.78 974.25L73.87 973.89L73.96 973.52M75.59 967.38L75.68 967.06L75.77 966.74L75.86 966.43L75.95 966.11L76.04 965.8L76.13 965.48L76.22 965.17M78.12 959.06L78.21 958.79L78.31 958.52L78.4 958.25L78.49 957.98L78.58 957.71L78.67 957.45L78.76 957.18L78.85 956.92M81.02 951.01L81.11 950.78L81.2 950.56L81.29 950.33L81.38 950.1L81.48 949.88L81.57 949.65L81.66 949.43L81.75 949.21L81.84 948.98L81.93 948.76M84.56 942.83L84.74 942.45L84.92 942.07L85.1 941.7L85.28 941.33L85.46 940.97L85.64 940.6M88.81 934.75L88.99 934.44L89.18 934.13L89.36 933.83L89.54 933.53L89.72 933.23L89.9 932.93L90.08 932.64L90.17 932.49M94.16 926.61L94.43 926.25L94.7 925.88L94.97 925.53L95.24 925.17L95.52 924.82L95.79 924.48L95.97 924.25M101.04 918.45L101.4 918.07L101.77 917.71L102.13 917.34L102.49 916.98L102.85 916.63L103.22 916.28L103.4 916.1M109.19 911.07L109.56 910.79L109.92 910.5L110.28 910.23L110.64 909.95L111.01 909.68L111.37 909.41L111.55 909.28M117.35 905.37L117.71 905.15L118.07 904.93L118.43 904.71L118.8 904.49L119.16 904.28L119.52 904.06L119.7 903.96M125.5 900.84L125.86 900.66L126.22 900.48L126.59 900.3L126.95 900.12L127.31 899.95L127.67 899.78L127.85 899.69M133.74 897.1L134.1 896.96L134.47 896.81L134.83 896.66L135.19 896.52L135.55 896.38L135.92 896.23L136.01 896.2M141.89 894.04L142.26 893.92L142.62 893.79L142.98 893.67L143.34 893.55L143.71 893.43L144.07 893.31L144.16 893.28M150.05 891.46L150.41 891.35L150.77 891.25L151.13 891.14L151.5 891.04L151.86 890.94L152.22 890.84L152.31 890.81M158.2 889.25L158.56 889.16L158.92 889.07L159.29 888.98L159.65 888.89L160.01 888.8L160.37 888.71L160.55 888.67M166.35 887.34L166.71 887.26L167.08 887.18L167.44 887.1L167.8 887.03L168.16 886.95L168.53 886.87L168.71 886.83M174.5 885.67L174.87 885.6L175.23 885.53L175.59 885.46L175.95 885.4L176.32 885.33L176.68 885.26L176.86 885.23M182.66 884.2L183.02 884.14L183.38 884.08L183.74 884.02L184.11 883.96L184.47 883.9L184.83 883.84L185.01 883.81M190.9 882.88L191.26 882.83L191.63 882.77L191.99 882.72L192.35 882.67L192.71 882.61L193.07 882.56L193.16 882.55M199.05 881.72L199.42 881.67L199.78 881.62L200.14 881.57L200.5 881.52L200.86 881.48L201.23 881.43L201.32 881.42M207.21 880.67L207.57 880.63L207.93 880.58L208.29 880.54L208.65 880.5L209.02 880.45L209.38 880.41L209.47 880.4M215.36 879.72L215.72 879.68L216.08 879.64L216.44 879.61L216.81 879.57L217.17 879.53L217.53 879.49L217.62 879.48M223.51 878.86L223.87 878.83L224.24 878.79L224.6 878.76L224.96 878.72L225.32 878.68L225.68 878.65L225.87 878.63M231.66 878.08L232.03 878.05L232.39 878.01L232.75 877.98L233.11 877.95L233.47 877.92L233.84 877.88L234.02 877.87M239.82 877.36L240.18 877.33L240.54 877.3L240.9 877.27L241.26 877.24L241.63 877.21L241.99 877.18L242.17 877.17M248.06 876.69L248.42 876.67L248.78 876.64L249.15 876.61L249.51 876.58L249.87 876.56L250.23 876.53L250.32 876.52M256.21 876.09L256.57 876.06L256.94 876.03L257.3 876.01L257.66 875.98L258.02 875.96L258.39 875.93L258.48 875.93M264.36 875.52L264.73 875.5L265.09 875.47L265.45 875.45L265.81 875.43L266.18 875.4L266.54 875.38L266.63 875.37M272.52 875L272.88 874.98L273.24 874.96L273.6 874.93L273.97 874.91L274.33 874.89L274.69 874.87L274.78 874.86M280.67 874.51L281.03 874.49L281.39 874.47L281.76 874.45L282.12 874.43L282.48 874.41L282.84 874.39L283.02 874.38M288.82 874.06L289.18 874.04L289.55 874.02L289.91 874L290.27 873.98L290.63 873.96L291 873.94L291.18 873.93M296.97 873.63L297.34 873.62L297.7 873.6L298.06 873.58L298.42 873.56L298.79 873.54L299.15 873.53L299.33 873.52M305.13 873.24L305.49 873.22L305.85 873.2L306.21 873.19L306.58 873.17L306.94 873.15L307.3 873.14L307.48 873.13M313.37 872.86L313.73 872.84L314.09 872.83L314.46 872.81L314.82 872.8L315.18 872.78L315.54 872.76L315.63 872.76M321.52 872.51L321.88 872.49L322.25 872.48L322.61 872.46L322.97 872.45L323.33 872.43L323.7 872.42L323.79 872.41M329.67 872.18L330.04 872.16L330.4 872.15L330.76 872.13L331.12 872.12L331.49 872.11L331.85 872.09L331.94 872.09M337.83 871.86L338.19 871.85L338.55 871.84L338.91 871.82L339.28 871.81L339.64 871.8L340 871.78L340.18 871.78M345.98 871.57L346.34 871.56L346.7 871.54L347.07 871.53L347.43 871.52L347.79 871.51L348.15 871.49L348.33 871.49M354.13 871.29L354.49 871.28L354.86 871.26L355.22 871.25L355.58 871.24L355.94 871.23L356.31 871.22L356.49 871.21M362.28 871.02L362.65 871.01L363.01 871L363.37 870.99L363.73 870.98L364.1 870.97L364.46 870.95L364.64 870.95M370.53 870.77L370.89 870.76L371.25 870.75L371.61 870.74L371.98 870.72L372.34 870.71L372.7 870.7L372.79 870.7M378.68 870.53L379.04 870.52L379.4 870.51L379.77 870.5L380.13 870.49L380.49 870.48L380.85 870.47L380.94 870.46M386.83 870.3L387.19 870.29L387.56 870.28L387.92 870.27L388.28 870.26L388.64 870.25L389.01 870.24L389.1 870.24M394.99 870.08L395.35 870.07L395.71 870.06L396.07 870.05L396.43 870.05L396.8 870.04L397.16 870.03L397.34 870.02M403.14 869.88L403.5 869.87L403.86 869.86L404.22 869.85L404.59 869.84L404.95 869.83L405.31 869.82L405.49 869.82M411.29 869.68L411.65 869.67L412.01 869.66L412.38 869.65L412.74 869.64L413.1 869.63L413.46 869.63L413.65 869.62M419.44 869.49L419.8 869.48L420.17 869.47L420.53 869.46L420.89 869.45L421.25 869.45L421.62 869.44L421.8 869.43" fill="none" stroke="#000" stroke-width="1.3"/>
<path d="M63.92 1055.32L64.65 1055.05L65.39 1054.77L66.12 1054.5L66.85 1054.22L67.58 1053.95L68.31 1053.68M72.16 1052.27L72.89 1052L73.62 1051.73L74.36 1051.47L75.09 1051.21L75.82 1050.94L76.46 1050.71M80.3 1049.35L81.04 1049.09L81.77 1048.83L82.5 1048.57L83.23 1048.32L83.97 1048.06L84.61 1047.84M88.45 1046.52L89.18 1046.27L89.91 1046.02L90.65 1045.77L91.38 1045.53L92.11 1045.28L92.75 1045.06M96.6 1043.78L97.33 1043.54L98.06 1043.3L98.79 1043.06L99.52 1042.82L100.26 1042.58L100.9 1042.37M104.74 1041.13L105.47 1040.9L106.2 1040.67L106.94 1040.43L107.67 1040.2L108.4 1039.97L109.13 1039.74M112.98 1038.54L113.71 1038.31L114.44 1038.09L115.17 1037.86L115.91 1037.64L116.64 1037.41L117.28 1037.22M121.12 1036.05L121.85 1035.83L122.59 1035.61L123.32 1035.39L124.05 1035.18L124.78 1034.96L125.42 1034.77M129.27 1033.64L130 1033.42L130.73 1033.21L131.46 1033L132.2 1032.79L132.93 1032.58L133.57 1032.39M137.41 1031.3L138.15 1031.09L138.88 1030.88L139.61 1030.68L140.34 1030.47L141.07 1030.27L141.71 1030.09M145.65 1029L146.38 1028.8L147.11 1028.6L147.85 1028.4L148.58 1028.2L149.31 1028L149.95 1027.82M153.8 1026.79L154.53 1026.6L155.26 1026.4L155.99 1026.21L156.72 1026.01L157.46 1025.82L158.1 1025.65M161.94 1024.65L162.67 1024.46L163.41 1024.27L164.14 1024.08L164.87 1023.89L165.6 1023.7L166.24 1023.54M170.09 1022.56L170.82 1022.38L171.55 1022.19L172.28 1022.01L173.02 1021.83L173.75 1021.64L174.39 1021.48M178.23 1020.53L178.96 1020.35L179.7 1020.18L180.43 1020L181.16 1019.82L181.89 1019.64L182.62 1019.46M186.47 1018.54L187.2 1018.37L187.93 1018.19L188.67 1018.02L189.4 1017.84L190.13 1017.67L190.77 1017.52M194.61 1016.62L195.35 1016.45L196.08 1016.28L196.81 1016.11L197.54 1015.94L198.28 1015.78L198.92 1015.63M202.76 1014.75L203.49 1014.59L204.22 1014.42L204.96 1014.26L205.69 1014.09L206.42 1013.93L207.06 1013.79M210.9 1012.94L211.64 1012.77L212.37 1012.61L213.1 1012.45L213.83 1012.29L214.57 1012.13L215.21 1011.99M219.05 1011.16L219.78 1011.01L220.51 1010.85L221.25 1010.69L221.98 1010.54L222.71 1010.38L223.44 1010.23M227.29 1009.42L228.02 1009.26L228.75 1009.11L229.48 1008.96L230.22 1008.81L230.95 1008.66L231.59 1008.52M235.43 1007.73L236.16 1007.59L236.9 1007.44L237.63 1007.29L238.36 1007.14L239.09 1006.99L239.73 1006.86M243.58 1006.09L244.31 1005.95L245.04 1005.8L245.77 1005.66L246.51 1005.51L247.24 1005.37L247.88 1005.24M251.72 1004.49L252.46 1004.35L253.19 1004.21L253.92 1004.07L254.65 1003.93L255.38 1003.79L256.02 1003.66M259.96 1002.91L260.69 1002.77L261.42 1002.64L262.16 1002.5L262.89 1002.36L263.62 1002.22L264.26 1002.1M268.11 1001.39L268.84 1001.25L269.57 1001.12L270.3 1000.98L271.03 1000.85L271.77 1000.72L272.41 1000.6M276.25 999.9L276.98 999.77L277.72 999.64L278.45 999.5L279.18 999.37L279.91 999.24L280.55 999.13M284.4 998.45L285.13 998.32L285.86 998.19L286.59 998.06L287.33 997.93L288.06 997.8L288.7 997.69M292.54 997.03L293.27 996.9L294.01 996.77L294.74 996.65L295.47 996.52L296.2 996.4L296.93 996.27M300.78 995.62L301.51 995.5L302.24 995.38L302.98 995.26L303.71 995.13L304.44 995.01L305.08 994.9M308.92 994.27L309.66 994.15L310.39 994.03L311.12 993.91L311.85 993.79L312.58 993.67L313.23 993.56M317.07 992.94L317.8 992.82L318.53 992.71L319.27 992.59L320 992.47L320.73 992.36L321.37 992.25M325.21 991.65L325.95 991.53L326.68 991.42L327.41 991.3L328.14 991.19L328.88 991.07L329.52 990.97M333.45 990.36L334.18 990.25L334.92 990.14L335.65 990.03L336.38 989.92L337.11 989.8L337.75 989.71M341.6 989.12L342.33 989.01L343.06 988.9L343.79 988.79L344.53 988.68L345.26 988.58L345.9 988.48M349.74 987.91L350.47 987.8L351.21 987.69L351.94 987.59L352.67 987.48L353.4 987.37L354.04 987.28M357.89 986.72L358.62 986.62L359.35 986.51L360.08 986.41L360.82 986.3L361.55 986.2L362.19 986.1M366.03 985.56L366.77 985.46L367.5 985.35L368.23 985.25L368.96 985.15L369.69 985.04L370.33 984.95M374.27 984.41L375 984.31L375.73 984.2L376.47 984.1L377.2 984L377.93 983.9L378.57 983.82M382.42 983.29L383.15 983.19L383.88 983.09L384.61 982.99L385.34 982.9L386.08 982.8L386.72 982.71M390.56 982.2L391.29 982.1L392.03 982L392.76 981.91L393.49 981.81L394.22 981.71L394.86 981.63M398.71 981.13L399.44 981.03L400.17 980.94L400.9 980.84L401.64 980.75L402.37 980.65L403.01 980.57M406.85 980.08L407.58 979.98L408.32 979.89L409.05 979.8L409.78 979.71L410.51 979.61L411.24 979.52M415.09 979.04L415.82 978.95L416.55 978.85L417.29 978.76L418.02 978.67L418.75 978.58L419.39 978.5M423.23 978.03L423.97 977.94L424.7 977.85L425.43 977.76L426.16 977.67L426.89 977.58L427.54 977.5" fill="none" stroke="#000" stroke-width="1.3"/>
<path d="M62 1056.05L62.54 1055.75L63.07 1055.46L63.61 1055.17L64.15 1054.9L64.68 1054.64L65.22 1054.39L65.4 1054.3M72.49 1051.62L74.04 1051.16L75.59 1050.73L77.14 1050.33L78.69 1049.96L80.24 1049.62L81.73 1049.3M88.77 1048.05L90.32 1047.82L91.87 1047.59L93.42 1047.38L94.97 1047.18L96.52 1046.99L98.01 1046.82M105.11 1046.09L106.66 1045.95L108.21 1045.81L109.76 1045.68L111.31 1045.56L112.86 1045.44L114.35 1045.33M121.44 1044.85L122.99 1044.75L124.54 1044.66L126.09 1044.58L127.64 1044.49L129.19 1044.41L130.68 1044.33M137.78 1044L139.33 1043.93L140.88 1043.86L142.43 1043.8L143.98 1043.74L145.53 1043.68L147.02 1043.62M154.11 1043.37L155.66 1043.32L157.22 1043.27L158.77 1043.23L160.32 1043.18L161.87 1043.13L163.36 1043.09M170.45 1042.9L172 1042.86L173.55 1042.82L175.1 1042.78L176.65 1042.75L178.2 1042.71L179.69 1042.68M186.79 1042.52L188.34 1042.49L189.89 1042.46L191.44 1042.43L192.99 1042.4L194.54 1042.37L196.03 1042.35M203.12 1042.22L204.67 1042.2L206.22 1042.17L207.77 1042.15L209.32 1042.12L210.87 1042.1L212.36 1042.08M219.46 1041.97L221.01 1041.95L222.56 1041.93L224.11 1041.91L225.66 1041.89L227.21 1041.87L228.7 1041.85M235.74 1041.77L237.29 1041.75L238.84 1041.73L240.39 1041.71L241.94 1041.69L243.49 1041.68L244.98 1041.66M252.07 1041.59L253.62 1041.57L255.17 1041.56L256.72 1041.54L258.27 1041.53L259.82 1041.51L261.31 1041.5M268.41 1041.43L269.96 1041.42L271.51 1041.41L273.06 1041.39L274.61 1041.38L276.16 1041.37L277.65 1041.36M284.74 1041.3L286.3 1041.29L287.85 1041.28L289.4 1041.27L290.95 1041.25L292.5 1041.24L293.99 1041.23" fill="none" stroke="#000" stroke-width="1.3"/>
<path d="M62.1 747.95V1056.35M61.2 748.85H430M61.2 1055.45H430" fill="none" stroke="#222" stroke-width="1.8"/>
<path d="M429 747.95V1056.35" fill="none" stroke="#2e2e2e" stroke-width="2.1"/>
<path d="M62.0 1017.12h6.9M428.9 1017.12h-6.9M62.0 978.8h6.9M428.9 978.8h-6.9M62.0 940.48h6.9M428.9 940.48h-6.9M62.0 902.15h6.9M428.9 902.15h-6.9M62.0 863.83h6.9M428.9 863.83h-6.9M62.0 825.5h6.9M428.9 825.5h-6.9M62.0 787.17h6.9M428.9 787.17h-6.9M225.07 748.85v6.9M225.07 1055.45v-6.9M388.13 748.85v6.9M388.13 1055.45v-6.9" stroke="#000" stroke-width="1.3" fill="none"/>
<text transform="translate(55.4 1059.45) scale(0.95 1)" font-size="13.1" text-anchor="end">0</text>
<text transform="translate(56 1021.12) scale(0.95 1)" font-size="13.1" text-anchor="end">1 10<tspan font-size="8.8" dy="-6.9" stroke="#000" stroke-width="0.3">-8</tspan></text>
<text transform="translate(56 982.8) scale(0.95 1)" font-size="13.1" text-anchor="end">2 10<tspan font-size="8.8" dy="-6.9" stroke="#000" stroke-width="0.3">-8</tspan></text>
<text transform="translate(56 944.48) scale(0.95 1)" font-size="13.1" text-anchor="end">3 10<tspan font-size="8.8" dy="-6.9" stroke="#000" stroke-width="0.3">-8</tspan></text>
<text transform="translate(56 906.15) scale(0.95 1)" font-size="13.1" text-anchor="end">4 10<tspan font-size="8.8" dy="-6.9" stroke="#000" stroke-width="0.3">-8</tspan></text>
<text transform="translate(56 867.83) scale(0.95 1)" font-size="13.1" text-anchor="end">5 10<tspan font-size="8.8" dy="-6.9" stroke="#000" stroke-width="0.3">-8</tspan></text>
<text transform="translate(56 829.5) scale(0.95 1)" font-size="13.1" text-anchor="end">6 10<tspan font-size="8.8" dy="-6.9" stroke="#000" stroke-width="0.3">-8</tspan></text>
<text transform="translate(56 791.17) scale(0.95 1)" font-size="13.1" text-anchor="end">7 10<tspan font-size="8.8" dy="-6.9" stroke="#000" stroke-width="0.3">-8</tspan></text>
<text transform="translate(56 752.85) scale(0.95 1)" font-size="13.1" text-anchor="end">8 10<tspan font-size="8.8" dy="-6.9" stroke="#000" stroke-width="0.3">-8</tspan></text>
<text transform="translate(62 1075.75) scale(0.95 1)" font-size="13.1" text-anchor="middle">0</text>
<text transform="translate(225.57 1075.75) scale(0.95 1)" font-size="13.1" text-anchor="middle">2 10<tspan font-size="8.8" dy="-6.9" stroke="#000" stroke-width="0.3">-5</tspan></text>
<text transform="translate(388.63 1075.75) scale(0.95 1)" font-size="13.1" text-anchor="middle">4 10<tspan font-size="8.8" dy="-6.9" stroke="#000" stroke-width="0.3">-5</tspan></text>
<ellipse cx="62.3" cy="1031" rx="4.0" ry="3.8" fill="#000"/>
<ellipse cx="77.1" cy="975.7" rx="4.0" ry="3.8" fill="#000"/>
<ellipse cx="91.7" cy="892.6" rx="4.0" ry="3.8" fill="#000"/>
<ellipse cx="115.5" cy="838.7" rx="4.0" ry="3.8" fill="#000"/>
<ellipse cx="145.6" cy="807.3" rx="4.0" ry="3.8" fill="#000"/>
<ellipse cx="218.9" cy="783" rx="4.0" ry="3.8" fill="#000"/>
<ellipse cx="384.1" cy="787" rx="4.0" ry="3.8" fill="#000"/>
<rect x="58.15" y="1031.55" width="7.7" height="7.7" fill="#000"/>
<rect x="71.05" y="965.25" width="7.7" height="7.7" fill="#000"/>
<rect x="96.25" y="914.45" width="7.7" height="7.7" fill="#000"/>
<rect x="129.85" y="890.95" width="7.7" height="7.7" fill="#000"/>
<rect x="160.25" y="859.15" width="7.7" height="7.7" fill="#000"/>
<rect x="238.15" y="851.25" width="7.7" height="7.7" fill="#000"/>
<rect x="420.45" y="906.95" width="7.7" height="7.7" fill="#000"/>
<path d="M89.1 1020.8L96.1 1027.8M89.1 1027.8L96.1 1020.8" stroke="#000" stroke-width="1.2" fill="none"/>
<path d="M135.5 1039.8L142.5 1046.8M135.5 1046.8L142.5 1039.8" stroke="#000" stroke-width="1.2" fill="none"/>
<path d="M173.9 1030.6L180.9 1037.6M173.9 1037.6L180.9 1030.6" stroke="#000" stroke-width="1.2" fill="none"/>
<path d="M207 1005.4L214 1012.4M207 1012.4L214 1005.4" stroke="#000" stroke-width="1.2" fill="none"/>
<path d="M280.7 983.3L287.7 990.3M280.7 990.3L287.7 983.3" stroke="#000" stroke-width="1.2" fill="none"/>
<path d="M66.1 1056.3L73.9 1056.3L70 1048.9Z" fill="#000"/>
<path d="M62.3 1053.4L70.1 1053.4L66.2 1046Z" fill="#000"/>
<path d="M61.7 1045.6L69.5 1045.6L65.6 1038.2Z" fill="#000"/>
<path d="M101.9 1048.6L109.7 1048.6L105.8 1041.2Z" fill="#000"/>
<path d="M143 1046.8L150.8 1046.8L146.9 1039.4Z" fill="#000"/>
<path d="M181.5 1055.7L189.3 1055.7L185.4 1048.3Z" fill="#000"/>
<path d="M215 1039.8L222.8 1039.8L218.9 1032.4Z" fill="#000"/>
<path d="M296.6 1040.2L304.4 1040.2L300.5 1032.8Z" fill="#000"/>
<text x="66.3" y="768.25" font-size="18" font-weight="bold">C</text>
<text transform="translate(11.3 1022.26) rotate(-90) scale(0.931 1)" font-size="14.93">Peptide</text>
<text transform="translate(11.3 968.94) rotate(-90) scale(0.951 1)" font-size="14.93">Bound/Surface</text>
<text transform="translate(11.3 869.3) rotate(-90) scale(0.905 1)" font-size="14.93">Area</text>
<text transform="translate(11.3 835.07) rotate(-90) scale(0.973 1)" font-size="14.93">(Mol/m</text>
<text transform="translate(11.3 789.1) rotate(-90) scale(1.08 1)" font-size="14.93">^</text>
<text transform="translate(11.3 780.23) rotate(-90) scale(0.98 1)" font-size="14.93">2</text>
<text transform="translate(11.3 770.95) rotate(-90) scale(1.0 1)" font-size="14.93">)</text>
<text transform="translate(242.2 1093.65) scale(0.945 1)" font-size="14" text-anchor="middle">Ceq</text>
<rect x="347.9" y="988.7" width="78.6" height="64.8" fill="#fff"/>
<path d="M350.9 1004.2H386.5" stroke="#000" stroke-width="1.3"/>
<ellipse cx="368.7" cy="1004.2" rx="4.0" ry="3.8" fill="#000"/>
<text x="390" y="1008" font-size="12.25">8DSS</text>
<path d="M350.9 1017.6H386.5" stroke="#000" stroke-width="1.3" stroke-dasharray="2.2 5.965"/>
<rect x="364.85" y="1013.75" width="7.7" height="7.7" fill="#000"/>
<text x="390" y="1022" font-size="12.25">8DAA</text>
<path d="M350.9 1031.2H386.5" stroke="#000" stroke-width="1.3" stroke-dasharray="4.4 3.765"/>
<path d="M365.2 1027.7L372.2 1034.7M365.2 1034.7L372.2 1027.7" stroke="#000" stroke-width="1.2" fill="none"/>
<text x="390" y="1035.4" font-size="12.25">8NAA</text>
<path d="M359.07 1044.8H368.4M375.4 1044.8H384.8" stroke="#000" stroke-width="1.3"/>
<path d="M364.8 1048.4L372.6 1048.4L368.7 1041Z" fill="#000"/>
<text x="390" y="1048.5" font-size="12.25">8ASS</text>

</svg>
</body></html>
